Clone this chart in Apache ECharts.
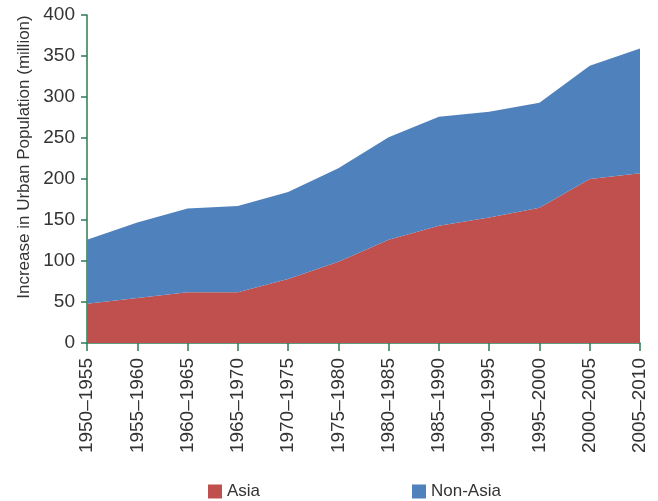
<!DOCTYPE html>
<html>
<head>
<meta charset="utf-8">
<script src="https://cdn.jsdelivr.net/npm/echarts@6/dist/echarts.min.js"></script>
<style>
  html, body { margin: 0; padding: 0; background: #fff; }
  #chart { width: 658px; height: 501px; }
</style>
</head>
<body>
<div id="chart"></div>
<script>
  // periods on the x axis
  var periods = ['1950–1955', '1955–1960', '1960–1965', '1965–1970', '1970–1975', '1975–1980',
    '1980–1985', '1985–1990', '1990–1995', '1995–2000', '2000–2005', '2005–2010']
  // increase in urban population, million
  var asia = [48, 55, 62, 62, 78, 99, 126, 143, 153, 165, 200, 207]
  var nonAsia = [78, 92, 102, 105, 106, 114, 125, 133, 129, 128, 138, 152]

  var font = '"Liberation Sans Narrow", "Liberation Sans", sans-serif'
  var axisGreen = '#2f7a56'

  var chart = echarts.init(document.getElementById('chart'))
  chart.setOption({
    animation: false,
    grid: {
      left: 87,
      right: 18,
      top: 15,
      bottom: 158
    },
    legend: [{
      data: ['Asia'],
      left: 203,
      top: 478,
      icon: 'rect',
      itemWidth: 14,
      itemHeight: 14,
      textStyle: { fontFamily: font, fontSize: 17, color: '#333' }
    }, {
      data: ['Non-Asia'],
      left: 407,
      top: 478,
      icon: 'rect',
      itemWidth: 14,
      itemHeight: 14,
      textStyle: { fontFamily: font, fontSize: 17, color: '#333' }
    }],
    xAxis: {
      type: 'category',
      data: periods,
      boundaryGap: false,
      axisLine: { lineStyle: { color: axisGreen, width: 1.5 } },
      axisTick: { show: true, length: 8, lineStyle: { color: axisGreen, width: 1.5 } },
      axisLabel: {
        rotate: 90,
        interval: 0,
        margin: 15,
        fontFamily: font,
        fontSize: 19,
        color: '#333'
      },
      splitLine: { show: false }
    },
    yAxis: {
      type: 'value',
      min: 0,
      max: 400,
      interval: 50,
      name: 'Increase in Urban Population (million)',
      nameLocation: 'middle',
      nameGap: 54,
      // shift the title up a little, as in the original
      nameTextStyle: { fontFamily: font, fontSize: 17, color: '#333', padding: [0, 0, 0, 44] },
      axisLine: { show: true, lineStyle: { color: axisGreen, width: 1.5 } },
      axisTick: { show: true, length: 6, lineStyle: { color: axisGreen, width: 1.5 } },
      axisLabel: { fontFamily: font, fontSize: 19, color: '#333', margin: 12 },
      splitLine: { show: false }
    },
    series: [{
        name: 'Asia',
        type: 'line',
        stack: 'total',
        symbol: 'none',
        lineStyle: { width: 0 },
        itemStyle: { color: '#c0504d' },
        areaStyle: { color: '#c0504d', opacity: 1 },
        data: asia
      },
      {
        name: 'Non-Asia',
        type: 'line',
        stack: 'total',
        symbol: 'none',
        lineStyle: { width: 0 },
        itemStyle: { color: '#4f81bd' },
        areaStyle: { color: '#4f81bd', opacity: 1 },
        data: nonAsia
      }
    ]
  })
</script>
</body>
</html>
